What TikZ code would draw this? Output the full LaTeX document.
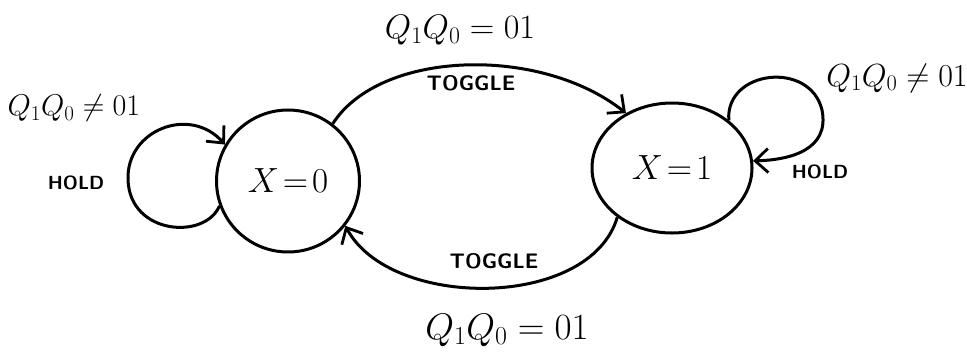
\RequirePackage{fix-cm}
\documentclass[tikz,border=0pt]{standalone}
\usepackage{fontspec}
\usetikzlibrary{shapes.geometric,arrows.meta}
\begin{document}
\begin{tikzpicture}[x=1pt,y=-1pt,
  line width=3pt,
  state/.style={draw,ellipse,inner sep=0pt,font=\fontsize{35}{37}\selectfont},
  cond/.style={inner sep=0pt,font=\fontsize{34}{36}\selectfont},
  act/.style={inner sep=0pt,font=\sffamily\bfseries\fontsize{21}{22}\selectfont\addfontfeature{LetterSpace=28}},
  holdtxt/.style={inner sep=0pt,font=\sffamily\bfseries\fontsize{19}{20}\selectfont\addfontfeature{LetterSpace=12}},
  edge/.style={-{Straight Barb[length=13pt,width=24pt,line width=2.8pt]}}]
\useasboundingbox (0,0) rectangle (967,354);
\node[state,minimum width=143pt,minimum height=142pt] (L) at (288,181) {$X\!=\!0$};
\node[state,minimum width=160pt,minimum height=130pt] (R) at (672,168) {$X\!=\!1$};
% top arc
\draw[edge] (L.52) .. controls (380,50) and (540,45) .. (R.130);
% bottom arc
\draw[edge] (R.222) .. controls (590,310) and (390,310) .. (L.322);
% left loop
\draw[edge] (L.200) .. controls (205,240) and (130,235) .. (128,180)
  .. controls (126,130) and (190,105) .. (L.150);
% right loop
\draw[edge] (R.40) .. controls (725,70) and (810,60) .. (822,110)
  .. controls (830,150) and (790,160) .. (R.5);
% labels
\node[cond] (ct) at (460,30) {$Q_1Q_0 = 01$};
\node[cond,font=\fontsize{37}{39}\selectfont] (cb) at (507,330) {$Q_1Q_0 = 01$};
\node[cond,font=\fontsize{30}{32}\selectfont] (cl) at (74,108) {$Q_1Q_0 \neq 01$};
\node[cond,font=\fontsize{32}{34}\selectfont] (cr) at (897,78) {$Q_1Q_0 \neq 01$};
\node[act] (tt) at (471,83) {TOGGLE};
\node[act] (tb) at (494,261) {TOGGLE};
\node[holdtxt] (hl) at (76,183) {HOLD};
\node[holdtxt] (hr) at (820,172) {HOLD};
\end{tikzpicture}
\end{document}
